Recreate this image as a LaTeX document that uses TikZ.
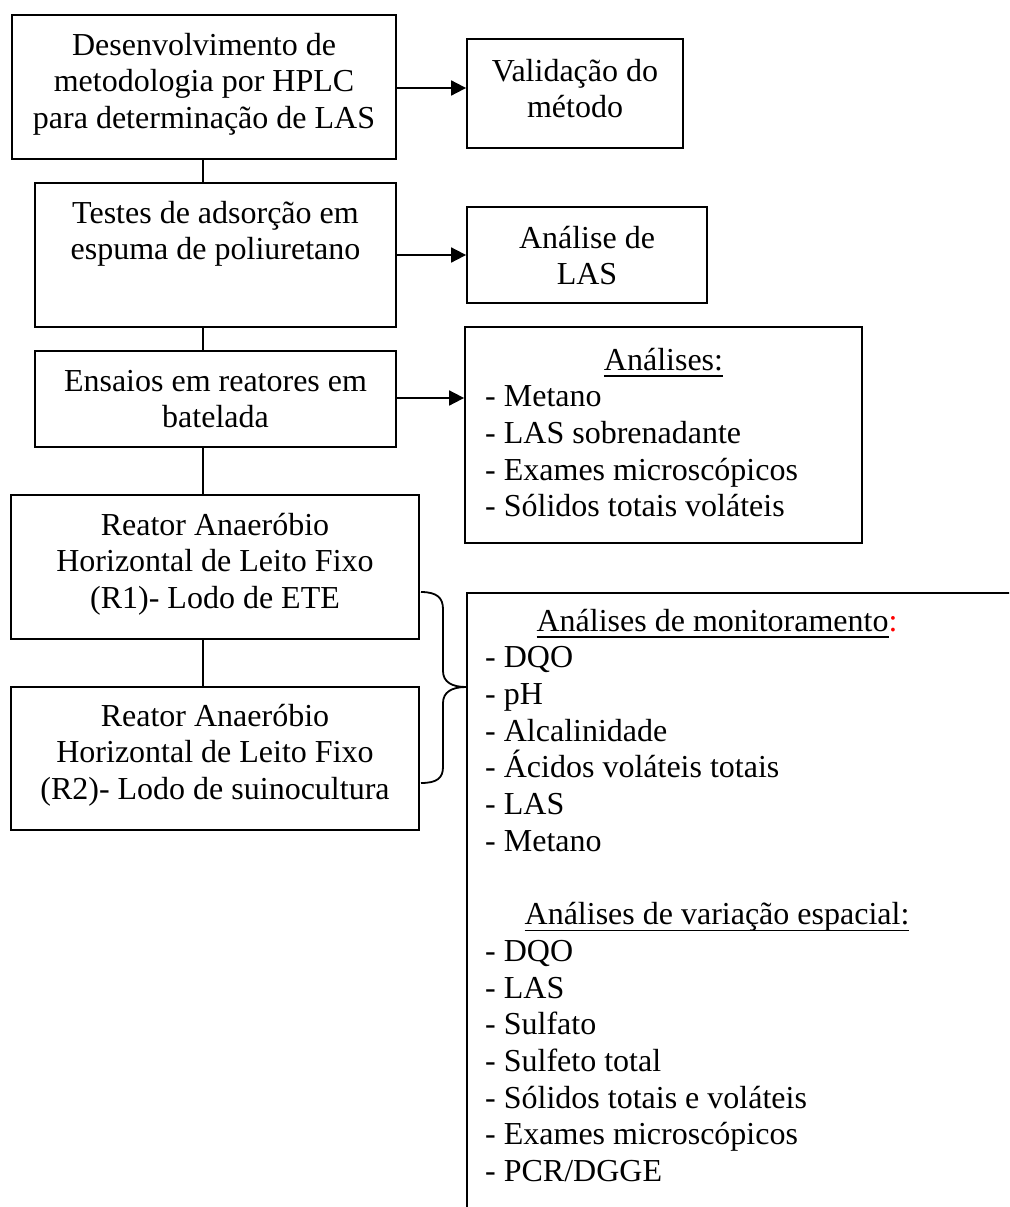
\documentclass[tikz,border=0pt]{standalone}
\usepackage{fontspec}
\setmainfont{Liberation Serif}
\usetikzlibrary{arrows.meta}
% underline set close to the baseline, as a word processor draws it
\newcommand\wordul[1]{\setbox0=\hbox{#1}\rlap{\rule[-6.5pt]{\wd0}{1.6pt}}\box0}
\begin{document}
\begin{tikzpicture}[x=1pt,y=-1pt,
  box/.style={draw,line width=1.8pt,inner sep=0pt},
  % multi-line texts are placed by the baseline of their last line
  txt/.style={inner sep=0pt,align=center,font=\fontsize{32}{36.7}\selectfont,anchor=base},
  lst/.style={inner sep=0pt,align=left,font=\fontsize{32}{36.7}\selectfont,anchor=base west},
  link/.style={line width=1.8pt},
  arr/.style={line width=1.8pt,-{Triangle[length=15pt,width=15pt]}}]
\useasboundingbox (0,0) rectangle (1009,1207);
\fill[white] (0,0) rectangle (1009,1207);
\clip (0,0) rectangle (1009,1207);

% left column
\node[box,minimum width=384pt,minimum height=144pt] (b1) at (204,87) {};
\node[txt] (t1) at (204,128.4) {Desenvolvimento de\\metodologia por HPLC\\para determinação de LAS};

\node[box,minimum width=361pt,minimum height=144pt] (b3) at (215.5,255) {};
\node[txt] (t3) at (215.5,259.7) {Testes de adsorção em\\espuma de poliuretano};

\node[box,minimum width=361pt,minimum height=96pt] (b5) at (215.5,399) {};
\node[txt] (t5) at (215.5,427.7) {Ensaios em reatores em\\batelada};

\node[box,minimum width=408pt,minimum height=144pt] (b7) at (215,567) {};
\node[txt] (t7) at (215,608.4) {Reator Anaeróbio\\Horizontal de Leito Fixo\\(R1)- Lodo de ETE};

\node[box,minimum width=408pt,minimum height=143pt] (b8) at (215,758.5) {};
\node[txt] (t8) at (215,799.4) {Reator Anaeróbio\\Horizontal de Leito Fixo\\(R2)- Lodo de suinocultura};

% right column
\node[box,minimum width=216pt,minimum height=109pt] (b2) at (575,93.5) {};
\node[txt] (t2) at (575,117.7) {Validação do\\método};

\node[box,minimum width=240pt,minimum height=96pt] (b4) at (587,255) {};
\node[txt] (t4) at (587,284.7) {Análise de\\LAS};

\node[box,minimum width=397pt,minimum height=216pt] (b6) at (663.5,435) {};
\node[txt] (h6) at (663.5,370) {\wordul{Análises:}};
\node[lst] (l6) at (485,516.8) {- Metano\\- LAS sobrenadante\\- Exames microscópicos\\- Sólidos totais voláteis};

\node[box,anchor=north west,minimum width=700pt,minimum height=700pt] (big) at (466,592) {};
\node[txt] (h9) at (717,631) {\wordul{Análises de monitoramento}\textcolor{red}{:}};
\node[lst] (l9) at (485,851.2) {- DQO\\- pH\\- Alcalinidade\\- Ácidos voláteis totais\\- LAS\\- Metano};
\node[txt] (h10) at (717,924.6) {\wordul{Análises de variação espacial:}};
\node[lst] (l10) at (485,1181.5) {- DQO\\- LAS\\- Sulfato\\- Sulfeto total\\- Sólidos totais e voláteis\\- Exames microscópicos\\- PCR/DGGE};

% connectors
\coordinate (trunk) at (203,0);
\draw[link] (b1.south -| trunk) -- (b3.north -| trunk);
\draw[link] (b3.south -| trunk) -- (b5.north -| trunk);
\draw[link] (b5.south -| trunk) -- (b7.north -| trunk);
\draw[link] (b7.south -| trunk) -- (b8.north -| trunk);
\draw[arr] (b1.east |- 0,88) -- (b2.west |- 0,88);
\draw[arr] (b3.east) -- (b3.east -| b4.west);
\draw[arr] (b5.east |- 0,398) -- (b6.west |- 0,398);

% brace joining both reactors to the analyses box
\coordinate (brA) at (421,592);
\coordinate (brTip) at (big.west |- 0,687);
\coordinate (brB) at (421,783);
\draw[link] (brA) .. controls (437,592) and (443,598) .. (443,609) -- (443,671)
  .. controls (443,682) and (452,687) .. (brTip)
  .. controls (452,687) and (443,692) .. (443,703) -- (443,767)
  .. controls (443,778) and (437,783) .. (brB);
\end{tikzpicture}
\end{document}
